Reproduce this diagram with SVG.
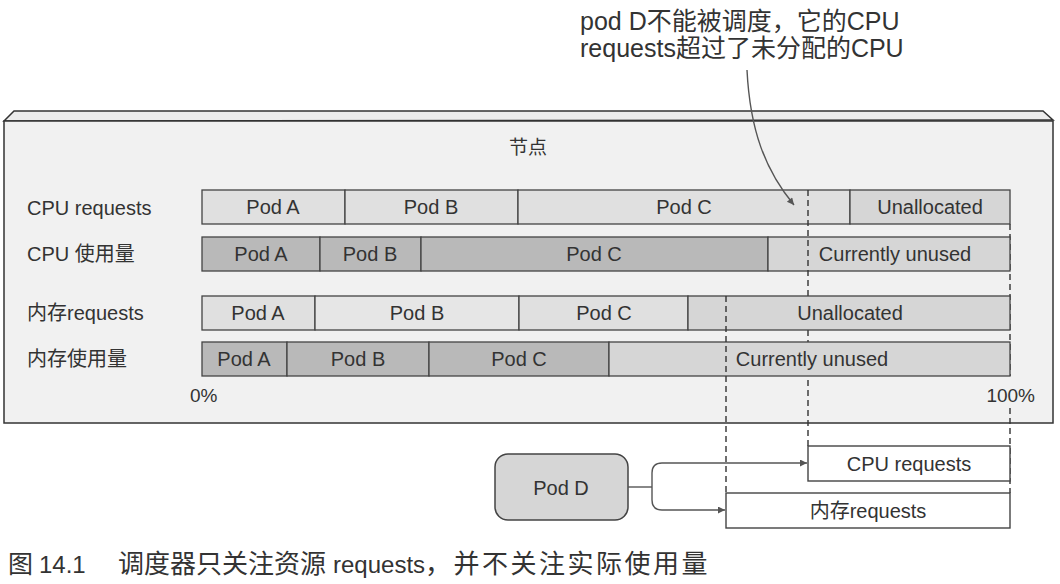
<svg xmlns="http://www.w3.org/2000/svg" width="1060" height="584" viewBox="0 0 1060 584">
<defs>
<style>
text{font-family:"Liberation Sans","Noto Sans CJK SC",sans-serif;fill:#333;}
.lbl{font-size:20px;}
.bt{font-size:20px;text-anchor:middle;}
.seg{stroke:#444;stroke-width:1.3;}
.req{fill:#e0e0e0;}
.req2{fill:#e6e6e6;}
.una{fill:#d6d6d6;}
.use{fill:#b9b9b9;}
.unu{fill:#d6d6d6;}
.dash{fill:none;stroke:#333;stroke-width:1.4;stroke-dasharray:6,4;}
.conn{fill:none;stroke:#555;stroke-width:1.4;}
</style>
<marker id="arr" viewBox="0 0 10 10" refX="10" refY="5" markerWidth="10" markerHeight="7" markerUnits="userSpaceOnUse" orient="auto">
<path d="M0,0 L10,5 L0,10 z" fill="#555"/>
</marker>
</defs>
<rect width="1060" height="584" fill="#fff"/>

<g id="node">
<polygon points="4,121 14,111 1043,111 1053,120" fill="#ececec" stroke="#333" stroke-width="1.5"/>
<rect x="4" y="121" width="1049" height="302" fill="#f1f1f1" stroke="#333" stroke-width="1.5"/>
<text x="528" y="154" style="font-size:19px;text-anchor:middle">节点</text>
</g>

<g id="guide-100-upper">
<path class="dash" d="M1010,224 V376"/>
</g>

<g id="row-cpu-requests">
<text class="lbl" x="27" y="215">CPU requests</text>
<rect class="seg req" x="202" y="190" width="143" height="34"/>
<rect class="seg req" x="345" y="190" width="173" height="34"/>
<rect class="seg req" x="518" y="190" width="332" height="34"/>
<rect class="seg una" x="850" y="190" width="160" height="34"/>
<text class="bt" x="273" y="214">Pod A</text>
<text class="bt" x="431" y="214">Pod B</text>
<text class="bt" x="684" y="214">Pod C</text>
<text class="bt" x="930" y="214">Unallocated</text>
</g>

<g id="row-cpu-usage">
<text class="lbl" x="27" y="261">CPU 使用量</text>
<rect class="seg use" x="202" y="237" width="118" height="34"/>
<rect class="seg use" x="320" y="237" width="101" height="34"/>
<rect class="seg use" x="421" y="237" width="347" height="34"/>
<rect class="seg unu" x="768" y="237" width="242" height="34"/>
<text class="bt" x="261" y="261">Pod A</text>
<text class="bt" x="370" y="261">Pod B</text>
<text class="bt" x="594" y="261">Pod C</text>
<text class="bt" x="895" y="261">Currently unused</text>
</g>

<g id="connectors">
<path class="dash" d="M808,190 V446"/>
</g>

<g id="row-mem-requests">
<text class="lbl" x="27" y="320">内存requests</text>
<rect class="seg req" x="202" y="296" width="113" height="34"/>
<rect class="seg req2" x="315" y="296" width="204" height="34"/>
<rect class="seg req" x="519" y="296" width="169" height="34"/>
<rect class="seg una" x="688" y="296" width="322" height="34"/>
<text class="bt" x="258" y="320">Pod A</text>
<text class="bt" x="417" y="320">Pod B</text>
<text class="bt" x="604" y="320">Pod C</text>
<text class="bt" x="850" y="320">Unallocated</text>
</g>

<g id="row-mem-usage">
<text class="lbl" x="27" y="366">内存使用量</text>
<rect class="seg use" x="202" y="342" width="85" height="34"/>
<rect class="seg use" x="287" y="342" width="142" height="34"/>
<rect class="seg use" x="429" y="342" width="180" height="34"/>
<rect class="seg unu" x="609" y="342" width="401" height="34"/>
<text class="bt" x="244" y="366">Pod A</text>
<text class="bt" x="358" y="366">Pod B</text>
<text class="bt" x="519" y="366">Pod C</text>
<text class="bt" x="812" y="366">Currently unused</text>
</g>

<g id="scale">
<text x="190" y="402" style="font-size:19px">0%</text>
<text x="1035" y="402" style="font-size:19px;text-anchor:end">100%</text>
</g>

<g id="guides">
<path class="dash" d="M726,296 V493"/>
<path class="dash" d="M1010,408 V493"/>
</g>

<g id="pod-d">
<rect x="495" y="454" width="133" height="66" rx="13" fill="#d6d6d6" stroke="#444" stroke-width="1.5"/>
<text class="bt" x="561" y="495">Pod D</text>
</g>

<g id="cpu-req-box">
<rect x="808" y="446" width="202" height="35" fill="#fff" stroke="#444" stroke-width="1.4"/>
<text class="bt" x="909" y="471">CPU requests</text>
</g>

<g id="mem-req-box">
<rect x="726" y="493" width="284" height="35" fill="#fff" stroke="#444" stroke-width="1.4"/>
<text class="bt" x="868" y="518">内存requests</text>
</g>

<g id="arrows">
<path class="conn" d="M628,487 H652"/>
<path class="conn" d="M652,487 V473 Q652,463 662,463 H807" marker-end="url(#arr)"/>
<path class="conn" d="M652,487 V500 Q652,510 662,510 H725" marker-end="url(#arr)"/>
<path class="conn" d="M747,70 C750,130 765,170 794,205" marker-end="url(#arr)"/>
</g>

<g id="annotation">
<text x="580" y="30" style="font-size:25px">pod D不能被调度，它的CPU</text>
<text x="580" y="57" style="font-size:25px">requests超过了未分配的CPU</text>
</g>

<g id="caption">
<text y="573" style="font-size:24px"><tspan x="8" style="font-size:25px">图</tspan><tspan x="39">14.1</tspan><tspan x="118" style="font-size:26px">调度器只关注资源 </tspan><tspan x="333">requests</tspan><tspan x="425" style="font-size:26px;letter-spacing:2.5px">，并不关注实际使用量</tspan></text>
</g>
</svg>
